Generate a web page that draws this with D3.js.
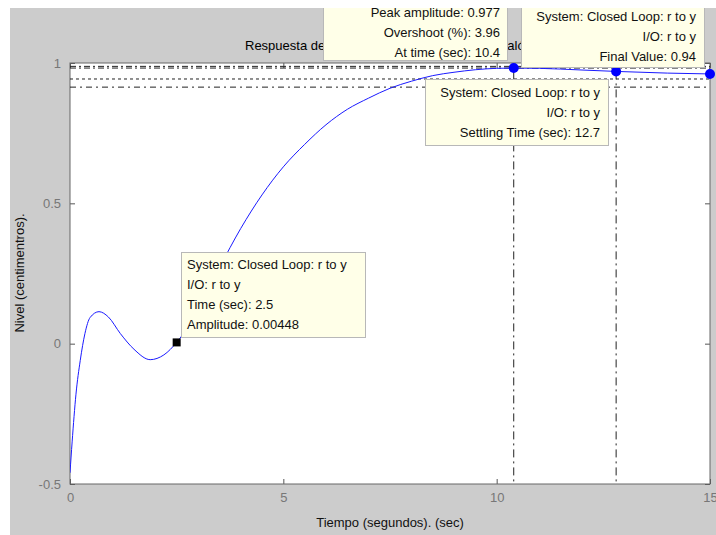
<!DOCTYPE html>
<html><head><meta charset="utf-8">
<script src="https://cdn.jsdelivr.net/npm/d3@7"></script>
<style>body{margin:0;background:#fff}svg text{font-family:"Liberation Sans",Arial,sans-serif}</style>
</head><body><svg id="c" width="716" height="535"></svg>
<script>
// ---- data ----
const timeVals = [0,0.05,0.14,0.24,0.35,0.47,0.68,0.9,1.18,1.5,1.88,2.2,2.5,3.0,3.5,4.0,4.5,5.0,5.5,6.0,6.5,7.0,7.5,8.0,8.5,9.0,9.5,10.0,10.4,11,12,12.8,14,15];
const levelVals = [-0.46,-0.35,-0.18,-0.06,0.036,0.093,0.114,0.095,0.036,-0.02,-0.057,-0.04,0.0045,0.12,0.27,0.41,0.53,0.63,0.71,0.78,0.835,0.875,0.91,0.935,0.955,0.967,0.976,0.981,0.982,0.981,0.975,0.97,0.964,0.961];
const xTicks = [0,5,10,15];
const yTicks = [-0.5,0,0.5,1];
const refLevels = [0.988,0.982,0.943,0.914];
const refDash = ["6,3,2,3","6,3,2,3","3,3","6,4,2,4"];
const vLineTimes = [10.4,12.8];
const markerTimes = [10.4,12.8,15];
const markerLevels = [0.982,0.97,0.961];
const titleText = "Respuesta del sistema en lazo cerrado al escalón";
const xLabel = "Tiempo (segundos). (sec)";
const yLabel = "Nivel (centimentros).";
const peakLines = ["Peak amplitude: 0.977","Overshoot (%): 3.96","At time (sec): 10.4"];
const finalLines = ["System: Closed Loop: r to y","I/O: r to y","Final Value: 0.94"];
const settleLines = ["System: Closed Loop: r to y","I/O: r to y","Settling Time (sec): 12.7"];
const pointLines = ["System: Closed Loop: r to y","I/O: r to y","Time (sec): 2.5","Amplitude: 0.00448"];
const pointT = 2.5, pointV = 0.00448;

const svg = d3.select("#c");
const defs = svg.append("defs");
defs.append("clipPath").attr("id","fig").append("rect").attr("x",10).attr("y",8).attr("width",706).attr("height",527);
defs.append("clipPath").attr("id","plot").append("rect").attr("x",70).attr("y",63).attr("width",640).attr("height",421);
const fig = svg.append("g").attr("clip-path","url(#fig)");
fig.append("rect").attr("x",10).attr("y",8).attr("width",706).attr("height",527).attr("fill","#cccccc");

const L=70,R=710,T=63,B=484;
const x = d3.scaleLinear().domain([0,15]).range([L,R]);
const y = d3.scaleLinear().domain([-0.5,1]).range([B,T]);

fig.append("rect").attr("x",L).attr("y",T).attr("width",R-L).attr("height",B-T).attr("fill","#fff");

// axes
const gx = fig.append("g").attr("transform",`translate(0,${B})`)
  .call(d3.axisBottom(x).tickValues(xTicks).tickFormat(d3.format("d")).tickSizeInner(-5).tickSizeOuter(0).tickPadding(9));
const gxt = fig.append("g").attr("transform",`translate(0,${T})`)
  .call(d3.axisTop(x).tickValues(xTicks).tickFormat("").tickSizeInner(-5).tickSizeOuter(0));
const gy = fig.append("g").attr("transform",`translate(${L},0)`)
  .call(d3.axisLeft(y).tickValues(yTicks).tickFormat(d=>d).tickSizeInner(-5).tickSizeOuter(0).tickPadding(9));
const gyr = fig.append("g").attr("transform",`translate(${R},0)`)
  .call(d3.axisRight(y).tickValues(yTicks).tickFormat("").tickSizeInner(-5).tickSizeOuter(0));
[gx,gxt,gy,gyr].forEach(g=>{g.select(".domain").remove();g.selectAll("line").attr("stroke","#555");
  g.selectAll("text").attr("fill","#777").attr("font-size","13px").attr("font-family","Liberation Sans, Arial, sans-serif");});
fig.append("rect").attr("x",L).attr("y",T).attr("width",R-L).attr("height",B-T).attr("fill","none").attr("stroke","#666");

// reference lines
const plot = fig.append("g").attr("clip-path","url(#plot)");
plot.selectAll(".href").data(refLevels).join("line")
  .attr("x1",L).attr("x2",R).attr("y1",d=>y(d)).attr("y2",d=>y(d))
  .attr("stroke","#222").attr("stroke-width",1).attr("stroke-dasharray",(d,i)=>refDash[i]);
plot.selectAll(".vref").data(vLineTimes).join("line")
  .attr("x1",d=>x(d)).attr("x2",d=>x(d)).attr("y1",y(0.97)).attr("y2",B)
  .attr("stroke","#222").attr("stroke-width",1).attr("stroke-dasharray","8,4,2,4");

// curve
const pts = timeVals.map((t,i)=>[t,levelVals[i]]);
plot.append("path").datum(pts).attr("fill","none").attr("stroke","#1a1aff").attr("stroke-width",1)
  .attr("d",d3.line().x(d=>x(d[0])).y(d=>y(d[1])).curve(d3.curveMonotoneX));

// title
fig.append("text").attr("x",245).attr("y",50).attr("text-anchor","start").attr("font-size","13px").attr("fill","#000").text(titleText);

// markers
fig.selectAll(".mk").data(markerTimes).join("circle")
  .attr("cx",d=>x(d)).attr("cy",(d,i)=>y(markerLevels[i])).attr("r",5).attr("fill","#0000ff");
fig.append("rect").attr("x",x(pointT)-4).attr("y",y(pointV)-4).attr("width",8).attr("height",8).attr("fill","#000");

// annotation boxes
function box(x0,y0,w,h,lines,anchor,tx,ty0,dy){
  const g = fig.append("g");
  g.append("rect").attr("x",x0+0.5).attr("y",y0+0.5).attr("width",w).attr("height",h).attr("fill","#ffffe8").attr("stroke","#b8b8b8");
  g.selectAll("text").data(lines).join("text").attr("x",tx).attr("y",(d,i)=>ty0+i*dy)
   .attr("text-anchor",anchor).attr("font-size","13px").attr("fill","#111").text(d=>d);
}
box(323,-6,184,66,peakLines,"end",500,17,20);
box(521,5,183,62,finalLines,"end",696,21,20);
box(425,79,183,66,settleLines,"end",600,97,20);
box(181,252,184,85,pointLines,"start",187,269,20);

// axis labels
fig.append("text").attr("x",(L+R)/2).attr("y",527).attr("text-anchor","middle").attr("font-size","13px").attr("fill","#111").text(xLabel);
fig.append("text").attr("transform","translate(24,273) rotate(-90)").attr("text-anchor","middle").attr("font-size","13px").attr("fill","#111").text(yLabel);
</script></body></html>
